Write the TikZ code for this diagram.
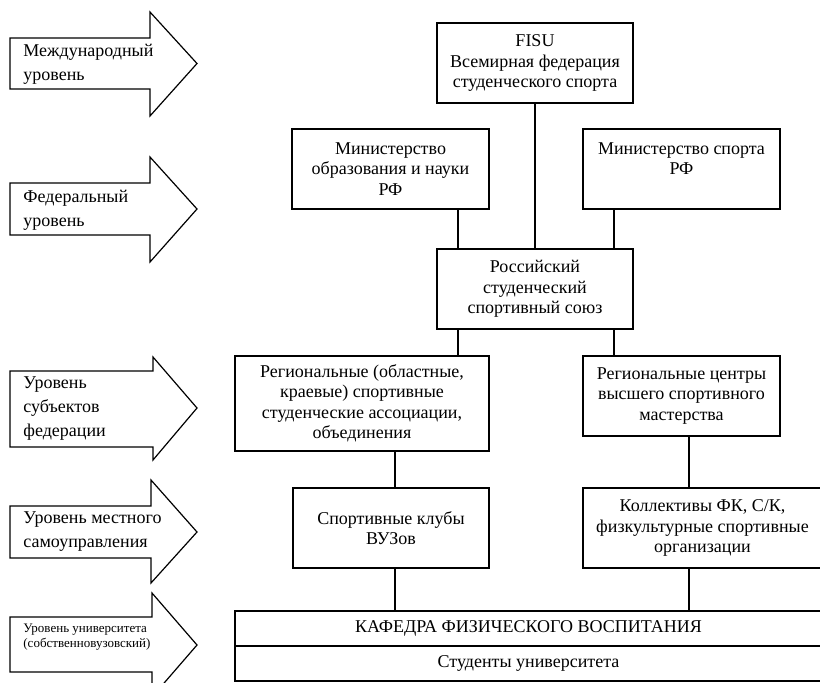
\documentclass[tikz,border=0pt]{standalone}
\usepackage{fontspec}
\setmainfont{Liberation Serif}
\usepackage{tikz}

\begin{document}
\begin{tikzpicture}
    [x=0.5pt, y=-0.5pt,
     box/.style={draw, line width=0.6pt, minimum width=98pt, minimum height=40pt, inner sep=0pt, align=center, font=\fontsize{9}{10.25}\selectfont},
     lvl/.style={anchor=west, inner sep=0pt, align=left, font=\fontsize{9}{12}\selectfont},
     link/.style={line width=1pt}]
    \useasboundingbox (0,0) rectangle (820,682);
    \clip (0,0) rectangle (820,682);

    % level arrows
    \draw[line width=0.6pt] (10,38) -- (150,38) -- (150,12) -- (197,63.5) -- (150,116) -- (150,89) -- (10,89) -- cycle;
    \draw[line width=0.6pt] (10,183) -- (150,183) -- (150,157) -- (197,209) -- (150,262) -- (150,235) -- (10,235) -- cycle;
    \draw[line width=0.6pt] (10,371) -- (153,371) -- (153,357) -- (197,408) -- (153,460) -- (153,447) -- (10,447) -- cycle;
    \draw[line width=0.6pt] (10,506) -- (151,506) -- (151,480) -- (197,532) -- (151,583) -- (151,558) -- (10,558) -- cycle;
    \draw[line width=0.6pt] (10,617) -- (152,617) -- (152,593) -- (197,645) -- (152,697) -- (152,672) -- (10,672) -- cycle;

    \node[lvl] (l1) at (23, 64) {Международный\\уровень};
    \node[lvl] (l2) at (23, 210) {Федеральный\\уровень};
    \node[lvl] (l3) at (23, 409) {Уровень\\субъектов\\федерации};
    \node[lvl] (l4) at (23, 532) {Уровень местного\\самоуправления};
    \node[lvl, font=\fontsize{6.5}{7.5}\selectfont] (l5) at (23, 637.5) {Уровень университета\\(собственновузовский)};

    % boxes
    \node[box] (fisu) at (535, 63) {FISU\\Всемирная федерация\\студенческого спорта};
    \node[box, minimum width=98.5pt] (minobr) at (390.5, 169) {Министерство\\образования и науки\\РФ};
    \node[box, minimum width=98.5pt] (minsport) at (681.5, 169) {Министерство спорта\\РФ\\\phantom{РФ}};
    \node[box] (rsss) at (535, 289) {Российский\\студенческий\\спортивный союз};
    \node[box, minimum width=127pt, minimum height=47.5pt] (regassoc) at (362, 403.5) {Региональные (областные,\\краевые) спортивные\\студенческие ассоциации,\\объединения};
    \node[box, minimum width=98.5pt] (regcentr) at (681.5, 396) {Региональные центры\\высшего спортивного\\мастерства};
    \node[box] (clubs) at (391, 528) {Спортивные клубы\\ВУЗов};
    \node[box, minimum width=119.5pt] (kollekt) at (702.5, 528) {Коллективы ФК, С/К,\\физкультурные спортивные\\организации};
    \node[box, minimum width=293.5pt, minimum height=17.5pt] (kafedra) at (528.5, 628.5) {КАФЕДРА ФИЗИЧЕСКОГО ВОСПИТАНИЯ};
    \node[box, minimum width=293.5pt, minimum height=17.5pt] (students) at (528.5, 663.5) {Студенты университета};

    % columns of the links
    \coordinate (xl) at (458, 0);
    \coordinate (xr) at (614, 0);
    \coordinate (xa) at (395, 0);
    \coordinate (xb) at (689, 0);

    \draw[link] (fisu) -- (rsss);
    \draw[link] (minobr.south -| xl) -- (rsss.north -| xl);
    \draw[link] (minsport.south -| xr) -- (rsss.north -| xr);
    \draw[link] (rsss.south -| xl) -- (regassoc.north -| xl);
    \draw[link] (rsss.south -| xr) -- (regcentr.north -| xr);
    \draw[link] (regassoc.south -| xa) -- (clubs.north -| xa);
    \draw[link] (clubs.south -| xa) -- (kafedra.north -| xa);
    \draw[link] (regcentr.south -| xb) -- (kollekt.north -| xb);
    \draw[link] (kollekt.south -| xb) -- (kafedra.north -| xb);
\end{tikzpicture}
\end{document}
